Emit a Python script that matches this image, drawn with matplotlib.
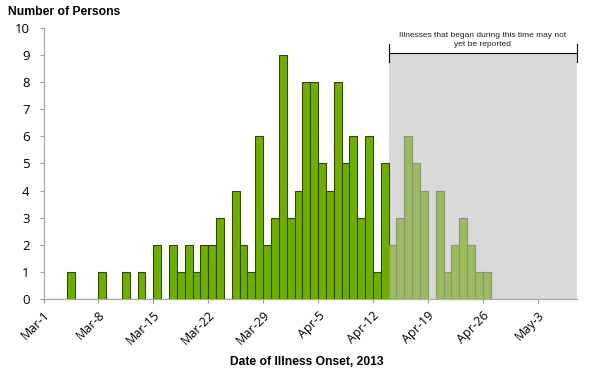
import datetime as dt

import matplotlib

matplotlib.use("Agg")
import matplotlib.dates as mdates  # noqa: E402
import matplotlib.pyplot as plt  # noqa: E402

# casos por data de início dos sintomas (a partir de 1 de março de 2013)
inicio = dt.date(2013, 3, 1)
casos = [0, 0, 0, 1, 0, 0, 0, 1, 0, 0, 1, 0, 1, 0, 2, 0, 2, 1, 2, 1,
         2, 2, 3, 0, 4, 2, 1, 6, 2, 3, 9, 3, 4, 8, 8, 5, 4, 8, 5, 6,
         3, 6, 1, 5, 2, 3, 6, 5, 4, 0, 4, 1, 2, 3, 2, 1, 1]
corte = dt.date(2013, 4, 14)      # a partir daqui: podem não estar notificados
fim_eixo = dt.date(2013, 5, 8)
ticks_datas = [dt.date(2013, 3, 1) + dt.timedelta(days=7 * i) for i in range(10)]
ticks_y = list(range(0, 11))

datas = [inicio + dt.timedelta(days=i) for i in range(len(casos))]
x = mdates.date2num(datas)
recente = [d >= corte for d in datas]

fig = plt.figure(figsize=(6, 3.78), dpi=100, facecolor="white")
ax = fig.add_axes([0.0725, 0.209, 0.889, 0.717])

x0, x1 = mdates.date2num(corte), mdates.date2num(fim_eixo)
y_colchete = 9.08

# faixa cinza do período sujeito a atraso de notificação
ax.axvspan(x0, x1, ymax=y_colchete / 10, color="#d9d9d9", lw=0, zorder=0)

xs_a = [xi for xi, r in zip(x, recente) if not r]
ys_a = [c for c, r in zip(casos, recente) if not r]
xs_b = [xi for xi, r in zip(x, recente) if r]
ys_b = [c for c, r in zip(casos, recente) if r]
ax.bar(xs_a, ys_a, width=1, align="edge", color="#6fae00",
       edgecolor="#2f4a00", linewidth=0.8, zorder=2)
ax.bar(xs_b, ys_b, width=1, align="edge", color="#9dbb63",
       edgecolor="#85996a", linewidth=0.8, zorder=2)

# colchete com o aviso
ax.plot([x0, x1], [y_colchete, y_colchete], color="black", lw=0.8, zorder=3,
        clip_on=False)
for xe in (x0, x1):
    ax.plot([xe, xe], [8.75, 9.42], color="black", lw=0.8, zorder=3,
            clip_on=False)
ax.text((x0 + x1) / 2, 9.55,
        "Illnesses that began during this time may not\nyet be reported",
        ha="center", va="center", fontsize=6, family="Liberation Sans",
        linespacing=1.3, color="#222222")

ax.set_xlim(mdates.date2num(inicio), x1)
ax.set_ylim(0, 10)
ax.set_xticks(mdates.date2num(ticks_datas))
ax.set_xticklabels([f"{d:%b}-{d.day}" for d in ticks_datas], rotation=45,
                   ha="right", rotation_mode="anchor", fontsize=9,
                   family="Open Sans")
ax.set_yticks(ticks_y)
ax.set_yticklabels([str(v) for v in ticks_y], fontsize=9.5,
                   family="Open Sans")
ax.tick_params(axis="both", color="#999999", length=3, pad=7)
ax.tick_params(axis="x", pad=4)

for lado in ("top", "right"):
    ax.spines[lado].set_visible(False)
for lado in ("left", "bottom"):
    ax.spines[lado].set_color("#aaaaaa")
    ax.spines[lado].set_linewidth(0.9)

fig.text(0.013, 0.967, "Number of Persons", fontsize=8.7, fontweight="bold",
         family="Liberation Sans", va="center")
fig.text(0.512, 0.043, "Date of Illness Onset, 2013", fontsize=8.7,
         fontweight="bold", family="Liberation Sans", ha="center",
         va="center")

fig.savefig("out.png", dpi=100, facecolor="white")
plt.close(fig)
